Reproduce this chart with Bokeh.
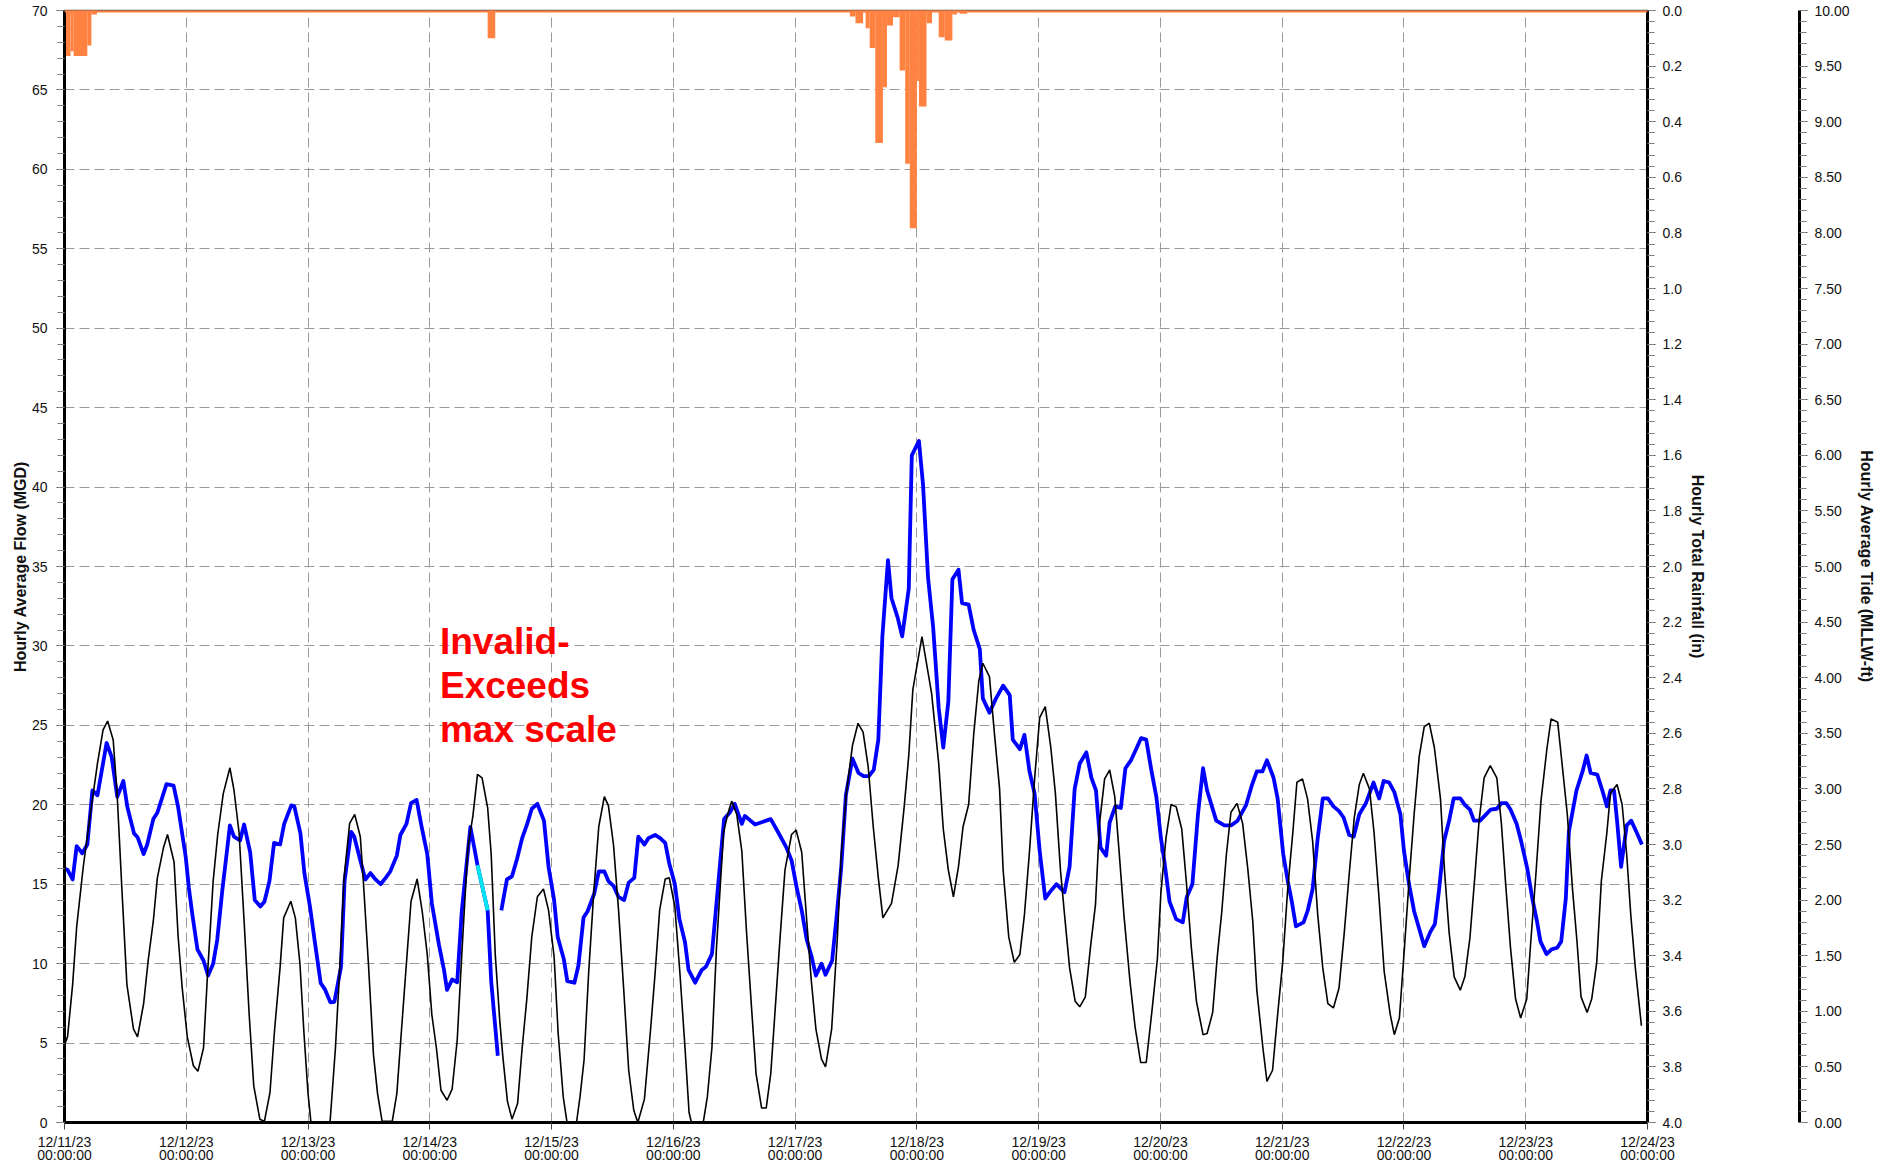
from datetime import datetime, timedelta
from bokeh.plotting import figure
from bokeh.layouts import row
from bokeh.models import (Range1d, LinearAxis, SingleIntervalTicker, DaysTicker,
                          DatetimeTickFormatter, NumeralTickFormatter, Span)
from bokeh.core.properties import value
from bokeh.embed import file_html
from bokeh.resources import INLINE

START = datetime(2023, 12, 11)
END = datetime(2023, 12, 24)

# ---------------- data (hours since 12/11/23 00:00) ----------------
flow_hours = [0.0, 0.6, 1.6, 2.4, 3.5, 4.5, 5.5, 6.5, 8.3, 9.3, 10.4, 11.6, 12.4, 13.7, 14.4, 15.6, 16.3,
              17.5, 18.3, 20.1, 21.5, 22.4, 23.9, 24.5, 25.2, 26.2, 27.4, 28.3, 29.3, 30.1, 31.1, 31.8,
              32.6, 33.4, 34.6, 35.4, 36.6, 37.5, 38.6, 39.4, 40.4, 41.3, 42.5, 43.3, 44.7, 45.3, 46.5,
              47.3, 48.4, 49.3, 50.5, 51.3, 52.4, 53.2, 54.5, 55.2, 56.5, 57.1, 58.3, 59.3, 60.3, 61.3,
              62.3, 63.3, 64.2, 65.5, 66.2, 67.4, 68.3, 69.4, 70.4, 71.5, 72.4, 73.8, 74.8, 75.4, 76.4,
              77.4, 78.3, 80.0, 81.4, 83.4, 84.1, 85.4, 85.7, 86.1, 87.2, 88.2, 89.2, 90.2, 91.1, 92.1,
              93.2, 94.5, 95.4, 96.5, 97.2, 98.4, 99.1, 100.5, 101.3, 102.3, 103.1, 104.4, 105.3, 106.4,
              107.2, 108.2, 109.2, 110.3, 111.2, 112.3, 113.1, 114.3, 115.1, 116.4, 117.4, 118.4, 119.2,
              120.3, 121.2, 122.3, 123.0, 124.3, 125.6, 126.4, 127.6, 128.9, 130.0, 131.1, 132.1, 133.5,
              134.1, 136.1, 137.4, 139.2, 140.6, 142.3, 143.3, 144.3, 145.3, 146.3, 147.2, 148.1, 149.2,
              150.0, 151.3, 152.1, 153.1, 154.0, 155.3, 156.5, 157.5, 158.5, 159.5, 160.4, 161.2, 162.3,
              163.0, 164.2, 165.1, 166.4, 167.0, 168.4, 169.2, 170.2, 171.2, 172.3, 173.2, 174.2, 175.0,
              176.2, 176.9, 178.2, 179.2, 180.4, 181.0, 182.3, 183.6, 185.0, 186.3, 186.9, 188.3, 189.2,
              190.2, 191.2, 192.2, 193.3, 194.2, 195.5, 197.1, 198.1, 199.1, 200.1, 201.4, 202.4, 203.3,
              204.2, 205.3, 206.0, 207.1, 208.2, 209.1, 210.2, 211.2, 212.2, 213.2, 214.2, 215.2, 216.1,
              216.8, 217.8, 219.1, 220.4, 221.2, 222.3, 223.4, 224.4, 225.2, 227.0, 228.6, 229.9, 231.2,
              232.9, 234.0, 235.0, 236.1, 237.0, 238.3, 239.1, 240.2, 241.1, 241.9, 242.7, 244.2, 245.0,
              246.0, 247.0, 248.0, 249.0, 250.1, 251.2, 252.1, 253.2, 254.1, 255.2, 256.5, 258.0, 259.1,
              260.0, 261.1, 262.1, 263.3, 264.0, 265.0, 266.0, 268.0, 269.2, 270.1, 270.9, 271.9, 272.9,
              273.8, 275.1, 276.0, 277.0, 277.8, 279.0, 279.9, 281.1, 282.3, 283.2, 284.2, 285.0, 286.2,
              287.1, 288.3, 289.3, 290.2, 290.9, 292.1, 293.1, 294.2, 295.0, 295.9, 296.5, 298.0, 299.2,
              300.0, 300.8, 302.1, 303.1, 304.0, 304.7, 305.4, 306.0, 306.8, 307.9, 308.8, 309.8, 310.9]
flow_mgd = [16.0, 15.9, 15.3, 17.4, 16.95, 17.5, 20.9, 20.6, 23.9, 23.0, 20.5, 21.5, 19.85, 18.2, 17.96,
            16.9, 17.5, 19.1, 19.5, 21.3, 21.2, 19.85, 16.7, 14.8, 13.1, 10.9, 10.2, 9.25, 10.0, 11.5,
            14.6, 16.5, 18.7, 18.0, 17.75, 18.76, 17.0, 14.0, 13.6, 13.9, 15.2, 17.6, 17.5, 18.8, 19.96,
            19.9, 18.2, 15.65, 13.55, 11.46, 8.77, 8.4, 7.57, 7.6, 9.8, 15.2, 18.3, 18.0, 16.5, 15.3,
            15.7, 15.3, 15.0, 15.4, 15.8, 16.8, 18.1, 18.8, 20.1, 20.3, 18.6, 16.9, 13.8, 11.2, 9.6,
            8.35, 9.0, 8.83, 13.3, 18.6, 16.2, 13.35, 8.9, 4.2, float("nan"), 13.35, 15.3, 15.5, 16.6,
            17.9, 18.7, 19.75, 20.06, 19.0, 16.1, 14.0, 11.7, 10.3, 8.9, 8.8, 9.9, 12.9, 13.3, 14.4,
            15.8, 15.8, 15.2, 14.9, 14.2, 14.0, 15.1, 15.4, 18.0, 17.5, 17.9, 18.1, 17.9, 17.6, 16.3,
            15.0, 12.8, 11.35, 9.6, 8.8, 9.6, 9.8, 10.6, 15.2, 19.1, 19.5, 20.06, 18.8, 19.3, 18.76,
            18.9, 19.1, 18.3, 17.3, 16.5, 14.8, 13.35, 11.5, 10.5, 9.25, 10.0, 9.3, 10.2, 12.7, 16.1,
            20.6, 22.9, 22.0, 21.8, 21.8, 22.2, 24.1, 30.6, 35.4, 33.0, 31.8, 30.6, 33.6, 42.0, 42.9,
            40.2, 34.3, 31.2, 26.1, 23.6, 26.5, 34.2, 34.8, 32.7, 32.6, 31.0, 29.8, 26.7, 25.8, 26.7,
            27.5, 26.9, 24.1, 23.5, 24.4, 22.1, 20.7, 17.1, 14.1, 14.5, 15.0, 14.5, 16.1, 21.0, 22.6,
            23.3, 21.7, 20.9, 17.3, 16.8, 18.9, 19.9, 19.8, 22.3, 22.8, 23.5, 24.2, 24.1, 22.2, 20.5,
            17.9, 16.4, 13.9, 12.8, 12.6, 14.2, 15.0, 19.4, 22.3, 20.9, 19.0, 18.7, 18.7, 19.0, 20.0,
            21.2, 22.1, 22.1, 22.8, 21.7, 20.4, 16.9, 15.2, 13.9, 12.35, 12.6, 13.3, 14.7, 17.9, 20.4,
            20.4, 19.9, 19.6, 19.2, 18.1, 18.0, 19.4, 20.1, 21.4, 20.4, 21.5, 21.4, 20.8, 19.4, 17.1,
            15.0, 13.3, 11.1, 12.0, 12.5, 14.6, 17.7, 19.0, 20.4, 20.4, 20.0, 19.7, 19.0, 19.0, 19.3,
            19.7, 19.75, 20.1, 20.1, 19.7, 18.8, 17.7, 16.0, 14.1, 12.7, 11.4, 10.6, 10.9, 11.0, 11.4,
            14.1, 18.3, 20.9, 22.1, 23.1, 22.0, 21.9, 20.9, 19.9, 20.9, 20.9, 19.0, 16.1, 18.7, 19.0,
            18.3, 17.5]

# flow values flagged as estimated (drawn in cyan)
flow_est_hours = [81.4, 83.4]
flow_est_mgd = [16.2, 13.35]

tide_hours = [0.0, 0.6, 1.6, 2.4, 3.7, 4.9, 6.5, 7.6, 8.5, 9.6, 10.4, 11.3, 12.3, 13.6, 14.4, 15.6, 16.5,
              17.5, 18.3, 19.5, 20.3, 21.6, 22.4, 23.2, 24.2, 25.4, 26.3, 27.4, 28.2, 29.3, 30.2, 31.3,
              32.6, 33.4, 34.4, 35.4, 36.4, 37.3, 38.5, 39.4, 40.5, 41.4, 42.5, 43.2, 44.6, 45.5, 46.4,
              47.2, 48.0, 49.0, 50.0, 51.0, 52.0, 53.4, 54.3, 55.1, 56.2, 57.2, 58.3, 58.9, 59.9, 60.9,
              61.7, 62.6, 64.6, 65.5, 66.9, 68.3, 69.5, 70.5, 71.5, 72.4, 73.3, 74.2, 75.4, 76.4, 77.4,
              78.3, 79.5, 80.5, 81.4, 82.3, 83.4, 84.1, 84.9, 85.8, 86.4, 87.3, 88.2, 89.3, 90.2, 91.1,
              92.1, 93.2, 94.4, 95.4, 96.5, 97.3, 98.3, 99.5, 100.5, 101.6, 102.4, 103.3, 104.3, 105.3,
              106.4, 107.2, 108.2, 109.2, 110.2, 111.2, 112.2, 113.0, 114.3, 115.5, 116.4, 117.3, 118.4,
              119.2, 120.3, 121.3, 122.3, 123.1, 124.3, 125.4, 126.7, 127.6, 128.5, 129.9, 130.7, 131.5,
              132.5, 133.5, 134.4, 135.4, 136.3, 137.4, 138.3, 139.2, 140.0, 141.0, 142.0, 143.3, 144.2,
              145.3, 146.3, 147.2, 148.1, 149.2, 150.0, 151.2, 152.3, 153.1, 154.1, 155.3, 156.4, 157.4,
              158.4, 159.4, 160.4, 161.3, 163.0, 164.3, 165.5, 166.4, 167.2, 169.0, 170.9, 172.3, 173.2,
              174.2, 175.2, 176.2, 177.1, 178.2, 179.2, 180.2, 181.0, 182.3, 183.3, 184.3, 185.0, 186.1,
              187.2, 188.3, 189.2, 190.2, 191.2, 192.2, 193.3, 194.4, 195.3, 196.3, 197.1, 198.1, 199.2,
              200.1, 201.2, 202.2, 203.2, 204.0, 205.0, 206.0, 207.0, 207.8, 208.8, 210.0, 211.0, 212.1,
              213.2, 214.3, 215.4, 216.1, 217.1, 218.1, 219.1, 220.2, 221.1, 222.1, 223.1, 224.4, 225.2,
              226.3, 227.2, 228.1, 229.0, 229.9, 231.1, 232.2, 233.2, 234.2, 235.0, 236.2, 237.0, 238.1,
              239.1, 240.1, 241.1, 242.1, 242.9, 244.0, 245.0, 246.0, 247.0, 248.0, 249.0, 250.1, 251.2,
              252.2, 253.2, 254.2, 255.2, 256.0, 257.2, 258.1, 259.1, 260.1, 261.3, 262.1, 263.1, 264.0,
              265.0, 266.0, 267.0, 268.0, 269.0, 270.0, 271.2, 272.0, 272.9, 273.9, 275.1, 276.0, 277.0,
              278.0, 278.8, 279.8, 281.0, 282.3, 283.2, 284.1, 285.0, 286.0, 287.0, 288.2, 289.0, 290.0,
              291.0, 292.2, 293.0, 294.3, 295.2, 296.2, 297.2, 298.1, 298.9, 300.1, 301.0, 302.0, 302.9,
              304.0, 304.7, 306.0, 307.0, 307.9, 308.7, 309.6, 310.8]
tide_ft = [0.70, 0.77, 1.24, 1.76, 2.30, 2.71, 3.23, 3.53, 3.61, 3.44, 2.93, 2.11, 1.24, 0.84, 0.77, 1.07,
           1.46, 1.81, 2.20, 2.47, 2.59, 2.34, 1.67, 1.21, 0.77, 0.51, 0.46, 0.67, 1.34, 2.17, 2.59, 2.96,
           3.19, 2.99, 2.61, 1.81, 0.97, 0.33, 0.03, 0.01, 0.27, 0.83, 1.40, 1.84, 1.99, 1.84, 1.43, 0.80,
           0.26, -0.19, -0.31, -0.31, -0.21, 0.67, 1.43, 2.20, 2.69, 2.77, 2.57, 2.17, 1.43, 0.61, 0.26,
           0.01, 0.01, 0.26, 1.13, 1.99, 2.19, 1.90, 1.51, 0.97, 0.67, 0.29, 0.20, 0.30, 0.74, 1.51, 2.47,
           2.76, 3.13, 3.10, 2.83, 2.41, 1.51, 0.91, 0.59, 0.19, 0.03, 0.17, 0.67, 1.10, 1.67, 2.03, 2.10,
           1.91, 1.49, 0.80, 0.23, -0.14, -0.14, 0.23, 0.56, 1.34, 2.06, 2.66, 2.93, 2.85, 2.50, 1.91,
           1.21, 0.47, 0.11, 0.00, 0.21, 0.83, 1.34, 1.91, 2.19, 2.20, 1.94, 1.34, 0.67, 0.09, -0.14,
           -0.14, 0.23, 0.67, 1.57, 2.61, 2.77, 2.89, 2.77, 2.44, 1.73, 1.04, 0.44, 0.13, 0.13, 0.44, 0.97,
           1.64, 2.27, 2.59, 2.63, 2.43, 1.81, 1.27, 0.84, 0.57, 0.50, 0.84, 1.64, 2.41, 2.96, 3.39, 3.59,
           3.51, 3.20, 2.66, 2.20, 1.84, 1.97, 2.31, 2.84, 3.30, 3.89, 4.37, 3.86, 3.23, 2.64, 2.27, 2.03,
           2.30, 2.66, 2.86, 3.49, 3.97, 4.13, 4.01, 3.49, 3.00, 2.27, 1.67, 1.44, 1.51, 1.87, 2.44, 3.09,
           3.64, 3.74, 3.37, 2.96, 2.27, 1.87, 1.39, 1.09, 1.04, 1.13, 1.57, 1.96, 2.69, 3.09, 3.17, 2.93,
           2.47, 1.87, 1.27, 0.86, 0.54, 0.54, 0.99, 1.47, 2.07, 2.56, 2.86, 2.84, 2.64, 2.17, 1.57, 1.09,
           0.79, 0.80, 0.99, 1.49, 1.90, 2.41, 2.79, 2.87, 2.69, 2.29, 1.81, 1.19, 0.67, 0.37, 0.47, 0.97,
           1.44, 2.11, 2.61, 3.06, 3.09, 2.91, 2.53, 1.87, 1.39, 1.07, 1.03, 1.21, 1.69, 2.23, 2.74, 3.04,
           3.14, 3.00, 2.61, 2.01, 1.36, 0.97, 0.79, 0.94, 1.51, 2.17, 2.77, 3.29, 3.56, 3.59, 3.37, 2.91,
           2.26, 1.71, 1.31, 1.19, 1.31, 1.66, 2.23, 2.71, 3.10, 3.21, 3.10, 2.69, 2.11, 1.57, 1.11, 0.94,
           1.11, 1.63, 2.23, 2.89, 3.37, 3.63, 3.60, 3.21, 2.77, 2.11, 1.63, 1.13, 0.99, 1.11, 1.44, 2.17,
           2.61, 2.96, 3.04, 2.86, 2.41, 1.87, 1.39, 0.87]

rain_start = [-0.5, 1.2, 1.8, 4.5, 5.3, 83.4, 154.8, 155.9, 157.4, 157.9, 158.7, 159.8, 161.3, 162.1,
              163.3, 164.6, 165.7, 166.6, 168.0, 168.4, 169.9, 171.0, 172.3, 173.5, 175.0, 175.9, 176.4]
rain_end = [1.2, 1.8, 4.5, 5.3, 6.4, 84.9, 155.9, 157.4, 157.9, 158.7, 159.8, 161.3, 162.1, 163.3,
            164.6, 165.7, 166.6, 168.0, 168.4, 169.9, 171.0, 172.3, 173.5, 175.0, 175.9, 176.4, 177.9]
rain_in = [0.164, 0.147, 0.164, 0.126, 0.014, 0.10, 0.022, 0.046, 0.006, 0.064, 0.135, 0.477, 0.276,
           0.054, 0.024, 0.216, 0.551, 0.783, 0.254, 0.345, 0.046, 0.003, 0.096, 0.108, 0.014, 0.003, 0.012]

note_text = "Invalid-\nExceeds\nmax scale"
note_hour = 74.0
note_flow = 31.6


def ts(hours):
    return [START + timedelta(hours=h) for h in hours]


FONT = "Liberation Sans"
FRAME_H = 1112
TOP = 10
BOTTOM = 46


def style_axis(ax, label_std=5, title_std=4, tick_out=8):
    ax.axis_line_width = 3
    ax.axis_line_color = "black"
    ax.major_tick_out = tick_out
    ax.major_tick_in = 0
    ax.minor_tick_out = tick_out - 1
    ax.minor_tick_in = 0
    ax.major_tick_line_color = "#444444"
    ax.minor_tick_line_color = "#808080"
    ax.major_label_text_font = FONT
    ax.major_label_text_font_size = "14px"
    ax.major_label_text_color = "#111111"
    ax.major_label_standoff = label_std
    ax.axis_label_text_font = FONT
    ax.axis_label_text_font_style = "bold"
    ax.axis_label_text_font_size = "16px"
    ax.axis_label_text_color = "#111111"
    ax.axis_label_standoff = title_std


p = figure(x_axis_type="datetime",
           x_range=Range1d(START, END), y_range=Range1d(0, 70),
           frame_width=1583, frame_height=FRAME_H,
           min_border_left=64, min_border_right=73, min_border_top=TOP, min_border_bottom=BOTTOM,
           output_backend="svg", toolbar_location=None,
           background_fill_color="white", border_fill_color="white",
           outline_line_color="#505050", outline_line_width=1.5)
p.extra_y_ranges = {"rain": Range1d(4.0, 0.0), "tide": Range1d(0, 10)}

# grids
for g in (p.xgrid, p.ygrid):
    g.grid_line_color = "#9a9a9a"
    g.grid_line_dash = "10 5"
    g.grid_line_width = 1

# x axis
p.xaxis.ticker = DaysTicker(days=list(range(1, 32)), num_minor_ticks=5)
p.xaxis.formatter = DatetimeTickFormatter(days="%m/%d/%y\n%H:%M:%S", months="%m/%d/%y\n%H:%M:%S",
                                          hours="%m/%d/%y\n%H:%M:%S")
style_axis(p.xaxis[0], label_std=4, tick_out=7)
p.xaxis.major_label_text_line_height = 0.87

# left axis
p.yaxis.ticker = SingleIntervalTicker(interval=5, num_minor_ticks=5)
p.yaxis.axis_label = "Hourly Average Flow (MGD)"
style_axis(p.yaxis[0], label_std=9, title_std=0)

# right rain axis
rain_axis = LinearAxis(y_range_name="rain", axis_label="Hourly Total Rainfall (in)",
                       ticker=SingleIntervalTicker(interval=0.2, num_minor_ticks=5),
                       formatter=NumeralTickFormatter(format="0.0"))
style_axis(rain_axis, label_std=7, title_std=4)
p.add_layout(rain_axis, "right")

# rain bars
p.quad(left=ts(rain_start), right=ts(rain_end), top=0, bottom=rain_in, y_range_name="rain",
       fill_color="#FF8240", line_color=None)
p.add_layout(Span(location=0, dimension="width", y_range_name="rain",
                  line_color="#FF8240", line_width=4))

# flow line
p.line(ts(flow_hours), flow_mgd, line_color="#0000FF", line_width=3.8, line_join="round")
p.line(ts(flow_est_hours), flow_est_mgd, line_color="#00E5EE", line_width=3.8)

# tide line
p.line(ts(tide_hours), tide_ft, y_range_name="tide", line_color="black", line_width=1.6)

# annotation
p.text(x=ts([note_hour]), y=[note_flow], text=[note_text], text_font=value(FONT),
       text_font_style="bold", text_font_size="37px", text_color="#FF0000",
       text_align="left", text_baseline="top", text_line_height=1.08)

# second panel holding the tide axis
p2 = figure(x_range=Range1d(0, 1), y_range=Range1d(0, 10),
            frame_width=79, frame_height=FRAME_H,
            min_border_left=0, min_border_right=75, min_border_top=TOP, min_border_bottom=BOTTOM,
            x_axis_location=None, y_axis_location=None,
            output_backend="svg", toolbar_location=None,
            outline_line_color=None, background_fill_color="white", border_fill_color="white")
p2.xgrid.visible = False
p2.ygrid.visible = False
tide_axis = LinearAxis(axis_label="Hourly Average Tide (MLLW-ft)",
                       ticker=SingleIntervalTicker(interval=0.5, num_minor_ticks=5),
                       formatter=NumeralTickFormatter(format="0.00"))
style_axis(tide_axis, label_std=7, title_std=5)
p2.add_layout(tide_axis, "right")

layout = row(p, p2)
open("out.html", "w").write(file_html(layout, INLINE))
